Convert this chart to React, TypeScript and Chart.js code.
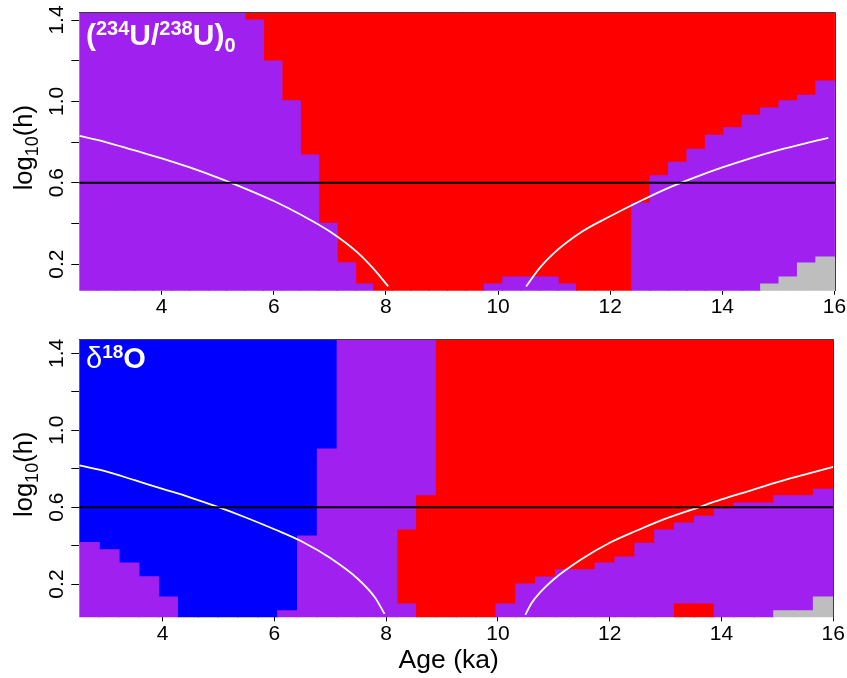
import React, { useEffect, useRef } from "react";
import { Chart, registerables } from "chart.js";

Chart.register(...registerables);

const FONT = '"Liberation Sans", Arial, Helvetica, sans-serif';

// Class colours used by the cell maps
const classColors: Record<string, string> = {
  P: "#A020F0",
  R: "#FF0000",
  B: "#0000FF",
  G: "#BEBEBE",
};

// Axis limits (age in ka, log10 of h)
const uAgeRange = [2.53, 16.01];
const uLogRange = [0.069, 1.436];
const oAgeRange = [2.51, 16.0];
const oLogRange = [0.027, 1.473];

const logTickLabels = ["0.2", "0.6", "1.0", "1.4"];
const threshold = 0.6;

// (234U/238U)0 panel: column centres and class runs, bottom to top.
// "P 0.736 R" = purple up to 0.736, then red to the top of the panel.
const uAges = [
  2.694, 3.023, 3.351, 3.68, 4.008, 4.337, 4.665, 4.994, 5.322, 5.651,
  5.979, 6.308, 6.636, 6.965, 7.293, 7.622, 7.95, 8.279, 8.607, 8.936,
  9.264, 9.593, 9.921, 10.25, 10.578, 10.907, 11.235, 11.564, 11.892, 12.221,
  12.549, 12.878, 13.206, 13.535, 13.863, 14.192, 14.52, 14.849, 15.177, 15.506,
  15.834,
];
const uCells = [
  "P", "P", "P", "P", "P", "P", "P", "P", "P",
  "P 1.400 R", "P 1.198 R", "P 1.003 R", "P 0.736 R", "P 0.400 R", "P 0.206 R", "P 0.101 R",
  "R", "R", "R", "R", "R", "R",
  "P 0.101 R", "P 0.136 R", "P 0.136 R", "P 0.136 R", "P 0.101 R",
  "R", "R", "R",
  "P 0.500 R", "P 0.634 R", "P 0.700 R", "P 0.764 R", "P 0.833 R", "P 0.870 R", "P 0.931 R",
  "G 0.101 P 0.967 R", "G 0.136 P 1.002 R", "G 0.205 P 1.030 R", "G 0.234 P 1.100 R",
];

// δ18O panel
const oAges = [
  2.688, 3.043, 3.398, 3.753, 4.108, 4.463, 4.818, 5.173, 5.528, 5.883,
  6.238, 6.593, 6.948, 7.303, 7.658, 8.013, 8.368, 8.723, 9.078, 9.433,
  9.788, 10.143, 10.498, 10.853, 11.208, 11.563, 11.918, 12.273, 12.628, 12.983,
  13.338, 13.693, 14.048, 14.403, 14.758, 15.113, 15.468, 15.823,
];
const oCells = [
  "P 0.415 B", "P 0.378 B", "P 0.309 B", "P 0.238 B", "P 0.132 B",
  "B", "B", "B", "B", "B",
  "P 0.060 B", "P 0.450 B", "P 0.902 B",
  "P", "P", "P",
  "P 0.096 R 0.481 P", "R 0.659 P",
  "R", "R", "R",
  "P 0.096 R", "P 0.200 R", "P 0.236 R", "P 0.274 R", "P 0.274 R", "P 0.309 R",
  "P 0.340 R", "P 0.412 R", "P 0.481 R",
  "R 0.096 P 0.517 R", "R 0.096 P 0.552 R",
  "P 0.590 R", "P 0.621 R", "P 0.621 R",
  "G 0.060 P 0.659 R", "G 0.060 P 0.659 R", "G 0.132 P 0.693 R",
];

// White boundary curves
const uLeftAge = [2.53, 3.0, 3.5, 4.0, 4.5, 5.0, 5.5, 6.0, 6.5, 7.0, 7.5, 7.8, 8.04];
const uLeftLog = [0.83, 0.8, 0.76, 0.72, 0.675, 0.625, 0.57, 0.51, 0.44, 0.36, 0.255, 0.17, 0.09];
const uRightAge = [10.5, 10.74, 11.0, 11.5, 12.0, 12.5, 13.0, 13.5, 14.0, 14.5, 15.0, 15.5, 15.89];
const uRightLog = [0.09, 0.18, 0.255, 0.36, 0.435, 0.505, 0.57, 0.625, 0.675, 0.72, 0.76, 0.795, 0.82];

const oLeftAge = [2.51, 3.0, 3.5, 4.0, 4.5, 5.0, 5.5, 6.0, 6.5, 7.0, 7.5, 7.8, 7.97];
const oLeftLog = [0.817, 0.785, 0.74, 0.695, 0.65, 0.6, 0.545, 0.485, 0.42, 0.335, 0.225, 0.13, 0.045];
const oRightAge = [10.49, 10.6, 10.75, 11.0, 11.5, 12.0, 12.5, 13.0, 13.5, 14.0, 14.5, 15.0, 15.5, 16.0];
const oRightLog = [0.04, 0.1, 0.155, 0.225, 0.33, 0.415, 0.48, 0.54, 0.59, 0.64, 0.685, 0.73, 0.77, 0.81];

type Run = { t: string; font: string; dy?: number };

function drawRuns(ctx: CanvasRenderingContext2D, runs: Run[], x: number, y: number, center: boolean) {
  const widths = runs.map((r) => {
    ctx.font = r.font;
    return ctx.measureText(r.t).width;
  });
  const total = widths.reduce((a, b) => a + b, 0);
  let cx = center ? x - total / 2 : x;
  runs.forEach((r, i) => {
    ctx.font = r.font;
    ctx.fillText(r.t, cx, y + (r.dy || 0));
    cx += widths[i];
  });
}

// Frame, panel label and axis titles
const panelDecor = {
  id: "panelDecor",
  afterDraw(chart: any, _args: any, opts: any) {
    const { ctx, chartArea } = chart;
    const { left, right, top, bottom } = chartArea;
    ctx.save();
    ctx.strokeStyle = "#3c3c3c";
    ctx.lineWidth = 1;
    ctx.beginPath();
    ctx.moveTo(Math.floor(left), Math.floor(top) + 0.5);
    ctx.lineTo(Math.floor(right) + 0.5, Math.floor(top) + 0.5);
    ctx.lineTo(Math.floor(right) + 0.5, Math.ceil(bottom));
    ctx.stroke();

    ctx.textAlign = "left";
    ctx.textBaseline = "alphabetic";

    // panel label
    ctx.fillStyle = "#ffffff";
    const big = `bold 30px ${FONT}`;
    const small = `bold 20px ${FONT}`;
    if (opts.label === "U") {
      drawRuns(
        ctx,
        [
          { t: "(", font: big },
          { t: "234", font: small, dy: -10 },
          { t: "U/", font: big },
          { t: "238", font: small, dy: -10 },
          { t: "U)", font: big },
          { t: "0", font: small, dy: 7 },
        ],
        left + 6.7,
        top + opts.labelBase,
        false
      );
    } else {
      drawRuns(
        ctx,
        [
          { t: "δ", font: `29px ${FONT}` },
          { t: "18", font: `bold 19px ${FONT}`, dy: -10 },
          { t: "O", font: `bold 29px ${FONT}` },
        ],
        left + 6.7,
        top + opts.labelBase,
        false
      );
    }

    // y axis title, rotated
    ctx.fillStyle = "#000000";
    ctx.save();
    ctx.translate(left - 47.6, (top + bottom) / 2 - 4);
    ctx.rotate(-Math.PI / 2);
    drawRuns(
      ctx,
      [
        { t: "log", font: `25.5px ${FONT}` },
        { t: "10", font: `18px ${FONT}`, dy: 6 },
        { t: "(h)", font: `25.5px ${FONT}` },
      ],
      0,
      0,
      true
    );
    ctx.restore();

    if (opts.xTitle) {
      ctx.font = `26.5px ${FONT}`;
      ctx.textAlign = "center";
      ctx.fillText(opts.xTitle, (left + right) / 2 - 7.6, bottom + 51);
    }
    ctx.restore();
  },
};

function cellDatasets(ages: number[], cells: string[], yMin: number, yMax: number) {
  const runs = cells.map((s) => {
    const parts = s.split(" ");
    const segs: { code: string; lo: number; hi: number }[] = [];
    let lo = yMin;
    for (let i = 0; i < parts.length; i += 2) {
      const hi = i + 1 < parts.length ? parseFloat(parts[i + 1]) : yMax;
      segs.push({ code: parts[i], lo, hi });
      lo = hi;
    }
    return segs;
  });
  const depth = Math.max(...runs.map((r) => r.length));
  const sets: any[] = [];
  for (let k = 0; k < depth; k++) {
    const data: any[] = [];
    const colors: string[] = [];
    runs.forEach((segs, i) => {
      const s = segs[k];
      if (!s) return;
      data.push({ x: ages[i], y: [s.lo, s.hi] });
      colors.push(classColors[s.code]);
    });
    sets.push({
      type: "bar",
      data,
      backgroundColor: colors,
      borderWidth: 0,
      inflateAmount: 0.6,
      grouped: false,
      barPercentage: 1,
      categoryPercentage: 1,
    });
  }
  return sets;
}

type PanelSpec = {
  ages: number[];
  cells: string[];
  ageRange: number[];
  logRange: number[];
  curves: [number[], number[]][];
  padding: { left: number; right: number; top: number; bottom: number };
  xAxisHeight: number;
  label: string;
  labelBase: number;
  xTitle?: string;
};

function makeChart(canvas: HTMLCanvasElement, spec: PanelSpec) {
  const [xMin, xMax] = spec.ageRange;
  const [yMin, yMax] = spec.logRange;
  const lineSets: any[] = [
    {
      type: "line",
      data: [
        { x: xMin, y: threshold },
        { x: xMax, y: threshold },
      ],
      borderColor: "#000000",
      borderWidth: 2,
      pointRadius: 0,
    },
    ...spec.curves.map(([ages, logs]) => ({
      type: "line",
      data: ages.map((a, i) => ({ x: a, y: logs[i] })),
      borderColor: "#ffffff",
      borderWidth: 1.8,
      pointRadius: 0,
      cubicInterpolationMode: "monotone",
      fill: false,
    })),
  ];
  const tickFont = { family: FONT, size: 21 };
  return new Chart(canvas, {
    type: "bar",
    data: { datasets: [...lineSets, ...cellDatasets(spec.ages, spec.cells, yMin, yMax)] },
    options: {
      responsive: false,
      animation: false,
      events: [],
      layout: { padding: spec.padding },
      plugins: {
        legend: { display: false },
        tooltip: { enabled: false },
        panelDecor: { label: spec.label, labelBase: spec.labelBase, xTitle: spec.xTitle },
      } as any,
      scales: {
        x: {
          type: "linear",
          min: xMin,
          max: xMax,
          offset: false,
          grid: { offset: false, drawOnChartArea: false, drawTicks: true, tickLength: 4, color: "#000000", lineWidth: 1 },
          border: { display: false },
          ticks: {
            stepSize: 2,
            includeBounds: false,
            autoSkip: false,
            minRotation: 0,
            maxRotation: 0,
            padding: 0,
            color: "#000000",
            font: tickFont,
            callback: (v: any) => String(v),
          },
          afterFit: (s: any) => {
            s.height = spec.xAxisHeight;
          },
        },
        y: {
          type: "linear",
          min: yMin,
          max: yMax,
          grid: { drawOnChartArea: false, drawTicks: true, tickLength: 8, color: "#000000", lineWidth: 1 },
          border: { display: false },
          ticks: {
            stepSize: 0.2,
            includeBounds: false,
            autoSkip: false,
            minRotation: 90,
            maxRotation: 90,
            crossAlign: "center",
            padding: 0,
            color: "#000000",
            font: tickFont,
            callback: (v: any) => {
              const s = Number(v).toFixed(1);
              return logTickLabels.includes(s) ? s : "";
            },
          },
          afterFit: (s: any) => {
            s.width = 79.3;
          },
        },
      } as any,
    },
    plugins: [panelDecor],
  } as any);
}

export default function App() {
  const topRef = useRef<HTMLCanvasElement>(null);
  const botRef = useRef<HTMLCanvasElement>(null);

  useEffect(() => {
    const top = makeChart(topRef.current!, {
      ages: uAges,
      cells: uCells,
      ageRange: uAgeRange,
      logRange: uLogRange,
      curves: [
        [uLeftAge, uLeftLog],
        [uRightAge, uRightLog],
      ],
      padding: { left: 0, right: 12, top: 12.7, bottom: 0 },
      xAxisHeight: 29.3,
      label: "U",
      labelBase: 32.3,
    });
    const bot = makeChart(botRef.current!, {
      ages: oAges,
      cells: oCells,
      ageRange: oAgeRange,
      logRange: oLogRange,
      curves: [
        [oLeftAge, oLeftLog],
        [oRightAge, oRightLog],
      ],
      padding: { left: 0, right: 13.7, top: 19.3, bottom: 0 },
      xAxisHeight: 60.7,
      label: "O",
      labelBase: 29,
      xTitle: "Age (ka)",
    });
    return () => {
      top.destroy();
      bot.destroy();
    };
  }, []);

  return (
    <div style={{ position: "absolute", left: 0, top: 0, width: 847, height: 678, background: "#ffffff" }}>
      <canvas
        ref={topRef}
        width={847}
        height={320}
        style={{ position: "absolute", left: 0, top: 0, width: 847, height: 320 }}
      />
      <canvas
        ref={botRef}
        width={847}
        height={358}
        style={{ position: "absolute", left: 0, top: 320, width: 847, height: 358 }}
      />
    </div>
  );
}
